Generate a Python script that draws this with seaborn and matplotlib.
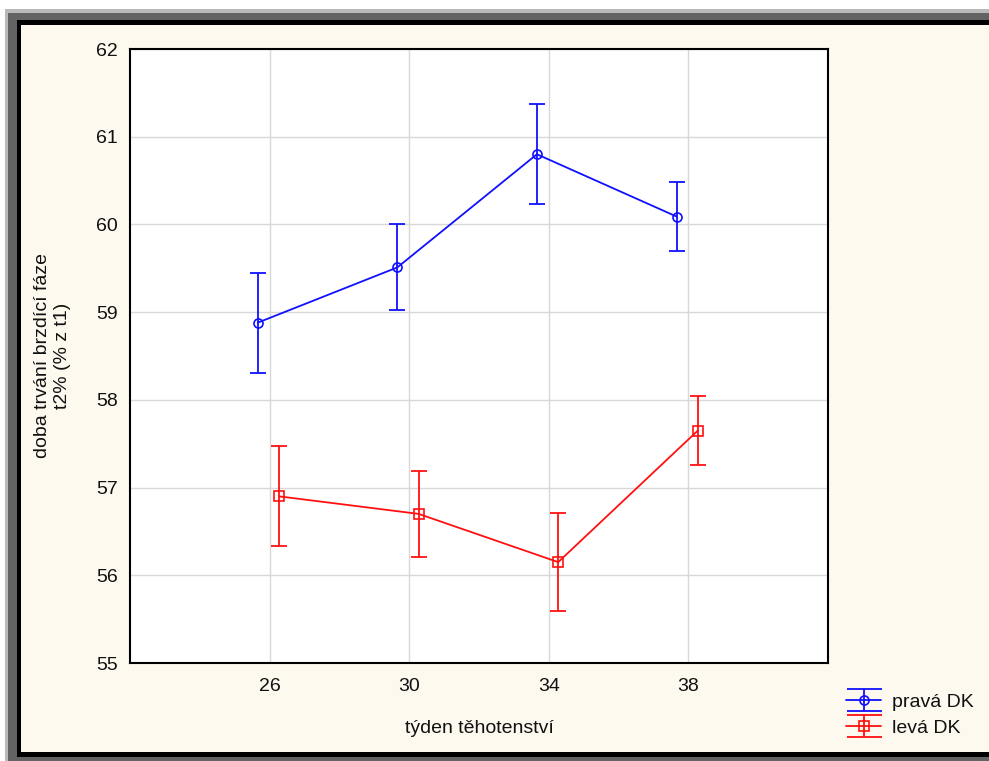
import numpy as np
import pandas as pd
import seaborn as sns
import matplotlib
matplotlib.use("Agg")
import matplotlib.pyplot as plt
from matplotlib.patches import Rectangle
from matplotlib.lines import Line2D
from matplotlib.container import ErrorbarContainer
from matplotlib.legend_handler import HandlerTuple, HandlerErrorbar

# ---- data ----
weeks = [26, 30, 34, 38]
prava_mean = [58.88, 59.51, 60.80, 60.09]
prava_err = [0.57, 0.49, 0.57, 0.39]
leva_mean = [56.90, 56.70, 56.15, 57.65]
leva_err = [0.57, 0.49, 0.56, 0.39]
series_names = ["pravá DK", "levá DK"]
y_ticks = [55, 56, 57, 58, 59, 60, 61, 62]
x_label = "týden těhotenství"
y_label = "doba trvání brzdící fáze\nt2% (% z t1)"

offsets = {"pravá DK": -0.34, "levá DK": 0.27}
colors = {"pravá DK": "#1010ff", "levá DK": "#ff1010"}
markers = {"pravá DK": "o", "levá DK": "s"}

rows = []
for name, means, errs in [("pravá DK", prava_mean, prava_err), ("levá DK", leva_mean, leva_err)]:
    for w, m, e in zip(weeks, means, errs):
        rows.append({"x": w + offsets[name], "value": m, "err": e, "series": name})
df = pd.DataFrame(rows)

sns.set_theme(style="white")
plt.rcParams["font.family"] = ["Liberation Sans", "DejaVu Sans"]

W, H = 989, 761
fig = plt.figure(figsize=(W / 100, H / 100), dpi=100)
fig.patch.set_facecolor("white")

def prect(x0, y0, x1, y1, color):
    fig.patches.append(Rectangle((x0 / W, 1 - y1 / H), (x1 - x0) / W, (y1 - y0) / H,
                                 transform=fig.transFigure, facecolor=color,
                                 edgecolor="none", zorder=-10))

prect(5, 9, W, H, "#b9b9b9")
prect(8, 13, W, H, "#636363")
prect(17, 20, W, 757, "#000000")
prect(21, 25, W, 752, "#fdf9ef")

ax = fig.add_axes([130 / W, 1 - 663 / H, 698 / W, 614 / H])
ax.set_facecolor("white")

sns.lineplot(data=df, x="x", y="value", hue="series", style="series",
             palette=colors, markers=markers, dashes=False, legend=False,
             linewidth=1.3, markersize=6.5, ax=ax, zorder=4)
for ln in ax.lines:
    c = ln.get_color()
    ln.set_markerfacecolor("none")
    ln.set_markeredgecolor(c)
    ln.set_markeredgewidth(1.2)

line_by_name = {}
for ln, name in zip(ax.lines, series_names):
    line_by_name[name] = ln

handles = []
for name in series_names:
    sub = df[df["series"] == name]
    cont = ax.errorbar(sub["x"], sub["value"], yerr=sub["err"], fmt="none",
                       ecolor=colors[name], elinewidth=1.3, capsize=6,
                       capthick=1.3, zorder=3)
    handles.append((cont, line_by_name[name]))


class WideCapHandler(HandlerErrorbar):
    def create_artists(self, legend, orig_handle, xdescent, ydescent, width,
                       height, fontsize, trans):
        arts = super().create_artists(legend, orig_handle, xdescent, ydescent,
                                      width, height, fontsize, trans)
        for a in arts:
            if isinstance(a, Line2D) and a.get_marker() == "_":
                a.set_markersize(width)
        return arts


ax.set_xlim(22, 42)
ax.set_ylim(55, 62)
ax.set_xticks(weeks)
ax.set_yticks(y_ticks)
ax.grid(True, color="#d8d8d8", linewidth=1.0)
ax.set_axisbelow(True)
for s in ax.spines.values():
    s.set_visible(True)
    s.set_color("black")
    s.set_linewidth(1.5)
ax.tick_params(direction="in", length=5, width=1, color="black",
               labelsize=14, pad=9, labelcolor="#111111")
ax.tick_params(axis="x", pad=11)
ax.set_xlabel(x_label, fontsize=14, labelpad=18, color="#111111")
ax.set_ylabel(y_label, fontsize=14, labelpad=18, color="#111111")

leg = fig.legend(handles, series_names, loc="center left",
                 bbox_to_anchor=(846 / W, 1 - 715 / H), frameon=False,
                 fontsize=14, handlelength=1.8, handletextpad=0.55,
                 labelspacing=0.42, borderpad=0, borderaxespad=0,
                 handler_map={tuple: HandlerTuple(ndivide=1),
                              ErrorbarContainer: WideCapHandler(yerr_size=0.55)})
for t in leg.get_texts():
    t.set_color("#111111")

fig.savefig("out.png", dpi=100, facecolor=fig.get_facecolor())
